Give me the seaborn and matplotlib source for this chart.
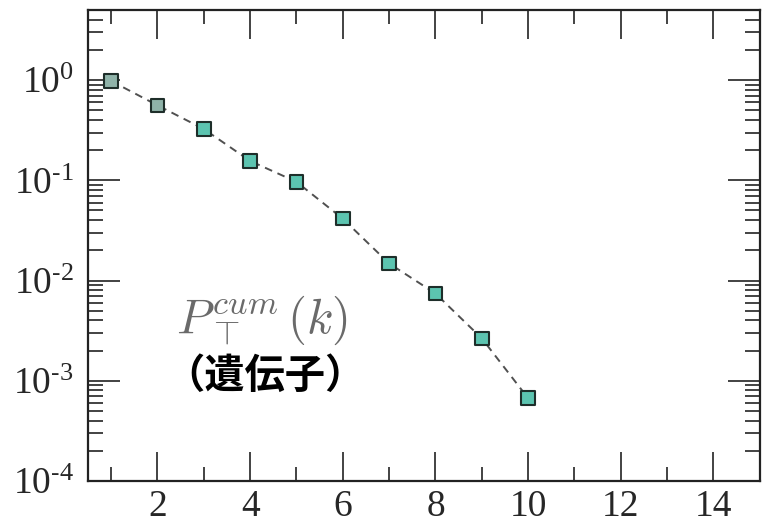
import numpy as np
import pandas as pd
import matplotlib
matplotlib.use("Agg")
import matplotlib.pyplot as plt
import matplotlib.ticker as mticker
import seaborn as sns

# data
k_values = [1, 2, 3, 4, 5, 6, 7, 8, 9, 10]
p_cum = [0.98, 0.56, 0.325, 0.156, 0.0966, 0.0414, 0.0148, 0.00743, 0.00265, 0.00067]
x_major_ticks = [2, 4, 6, 8, 10, 12, 14]
y_major_ticks = [1e-4, 1e-3, 1e-2, 1e-1, 1e0]
label_math = r"$P_{\top}^{cum}\,(k)$"
label_jp = "（遺伝子）"

sns.set_style("ticks")
plt.rcParams["font.family"] = ["Liberation Serif", "DejaVu Serif"]
plt.rcParams["mathtext.fontset"] = "stix"

df = pd.DataFrame({"k": k_values, "p": p_cum})

fig = plt.figure(figsize=(7.62, 5.30), dpi=100)
ax = fig.add_axes([0.1155, 0.0925, 0.8815, 0.8885])

sns.lineplot(data=df, x="k", y="p", ax=ax, color="#505050", linestyle=(0, (4, 3)),
             linewidth=1.4, zorder=2)
face = ["#8fb3a9", "#8fb3a9"] + ["#5cc4b0"] * (len(k_values) - 2)
ax.scatter(df["k"], df["p"], marker="s", s=95, c=face, edgecolors="#1e2e2a",
           linewidths=1.5, zorder=3)


def fmt_pow(v, p):
    e = int(round(np.log10(v)))
    if e < 0:
        return r"$\mathregular{10^{\text{-}%d}}$" % (-e)
    return r"$\mathregular{10^{%d}}$" % e


ax.set_yscale("log")
ax.set_xlim(0.5, 15)
ax.set_ylim(1e-4, 5)
ax.set_xticks(x_major_ticks)
ax.xaxis.set_minor_locator(mticker.FixedLocator([1, 3, 5, 7, 9, 11, 13]))
ax.set_yticks(y_major_ticks)
ax.yaxis.set_minor_locator(mticker.LogLocator(base=10, subs=np.arange(2, 10)))
ax.yaxis.set_minor_formatter(mticker.NullFormatter())
ax.yaxis.set_major_formatter(mticker.FuncFormatter(fmt_pow))
ax.set_xlabel("")
ax.set_ylabel("")

ax.tick_params(which="both", direction="in", top=True, right=True, width=1.2, color="#222222")
ax.tick_params(axis="x", which="major", length=21, labelsize=27, pad=6)
ax.tick_params(axis="x", which="minor", length=10)
ax.tick_params(axis="y", which="major", length=23, labelsize=27, pad=10)
ax.tick_params(axis="y", which="minor", length=11)
for s in ax.spines.values():
    s.set_linewidth(1.6)
    s.set_color("#222222")
    s.set_visible(True)

ax.text(0.131, 0.314, label_math, transform=ax.transAxes, fontsize=35,
        color="#6a6a6a", ha="left", va="baseline", math_fontfamily="cm")
ax.text(0.114, 0.198, label_jp, transform=ax.transAxes, fontsize=29,
        fontweight="bold", color="black", ha="left", va="baseline",
        family=["Noto Sans CJK JP", "DejaVu Sans"])

fig.savefig("out.png", dpi=100)
